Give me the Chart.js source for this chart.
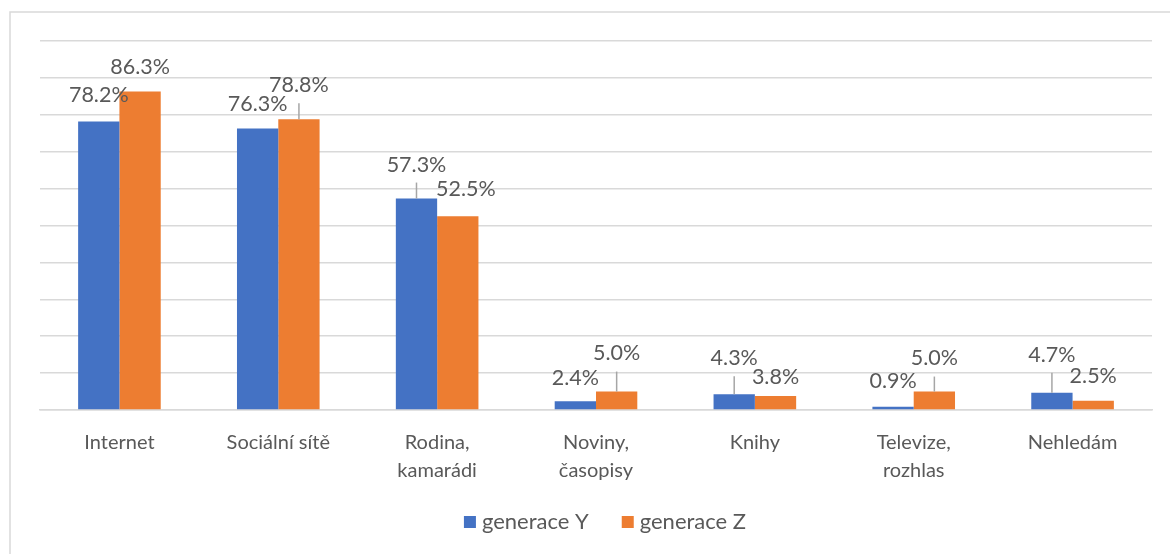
<!DOCTYPE html>
<html>
<head>
<meta charset="utf-8">
<script src="https://cdn.jsdelivr.net/npm/chart.js@4"></script>
<style>
  body { margin: 0; background: #fff; }
  canvas { display: block; }
</style>
</head>
<body>
<canvas id="chart" width="1170" height="554"></canvas>
<script>
const categories = [['Internet'], ['Sociální sítě'], ['Rodina,', 'kamarádi'], ['Noviny,', 'časopisy'], ['Knihy'], ['Televize,', 'rozhlas'], ['Nehledám']]
const seriesNames = ['generace Y', 'generace Z']
const genY = [78.2, 76.3, 57.3, 2.4, 4.3, 0.9, 4.7]
const genZ = [86.3, 78.8, 52.5, 5.0, 3.8, 5.0, 2.5]

// label placement (px above bar top), leader line flags, sideways nudge
const labelLift = [[26, 24, 34, 23, 36, 26, 38], [24, 34, 27, 38, 19, 33, 25]]
const labelLeader = [[false, false, true, false, true, false, true], [false, true, false, true, false, true, false]]
const labelShift = [[0, 0, 0, 0, 0, 0, 0], [0, 0, 8, 0, 0, 0, 0]]

const colors = ['#4472c4', '#ed7d31']
const textColor = '#595959'
const font = 'Lato'

const labelsPlugin = {
  id: 'labels',
  beforeDraw(chart) {
    const ctx = chart.ctx
    ctx.save()
    ctx.strokeStyle = '#d9d9d9'
    ctx.lineWidth = 1.5
    ctx.strokeRect(10, 12, 1200, 600)
    ctx.restore()
  },
  afterDatasetsDraw(chart) {
    const ctx = chart.ctx
    ctx.save()
    ctx.font = `21.5px ${font}`
    ctx.fillStyle = textColor
    ctx.textAlign = 'center'
    ctx.textBaseline = 'middle'
    chart.data.datasets.forEach((ds, di) => {
      const meta = chart.getDatasetMeta(di)
      meta.data.forEach((bar, i) => {
        const cy = bar.y - labelLift[di][i]
        const cx = bar.x + labelShift[di][i]
        ctx.fillText(ds.data[i].toFixed(1) + '%', cx, cy)
        if (labelLeader[di][i]) {
          ctx.strokeStyle = '#a6a6a6'
          ctx.lineWidth = 1.5
          ctx.beginPath()
          ctx.moveTo(bar.x, cy + 18)
          ctx.lineTo(bar.x, bar.y)
          ctx.stroke()
        }
      })
    })

    // legend, a bit right of centre like the original
    ctx.font = `22px ${font}`
    const box = 12, gap = 6, spacing = 33
    const widths = chart.data.datasets.map(ds => box + gap + ctx.measureText(ds.label).width)
    const total = widths.reduce((a, b) => a + b, 0) + spacing * (widths.length - 1)
    let x = (chart.width - total) / 2 + 20
    const y = 522
    ctx.textAlign = 'left'
    chart.data.datasets.forEach((ds, di) => {
      ctx.fillStyle = ds.backgroundColor
      ctx.fillRect(x, y - box / 2, box, box)
      ctx.fillStyle = textColor
      ctx.fillText(ds.label, x + box + gap, y)
      x += widths[di] + spacing
    })
    ctx.restore()
  }
}

new Chart(document.getElementById('chart'), {
  type: 'bar',
  data: {
    labels: categories,
    datasets: [
      { label: seriesNames[0], data: genY, backgroundColor: colors[0] },
      { label: seriesNames[1], data: genZ, backgroundColor: colors[1] }
    ]
  },
  options: {
    responsive: false,
    animation: false,
    layout: { padding: { top: 41, left: 40, right: 18, bottom: 0 } },
    datasets: { bar: { categoryPercentage: 0.52, barPercentage: 1 } },
    plugins: {
      legend: { display: false },
      tooltip: { enabled: false }
    },
    scales: {
      x: {
        afterFit: s => { s.height = 144 },
        grid: { display: false },
        border: { color: '#d9d9d9', width: 1.5 },
        ticks: {
          color: textColor,
          padding: 11,
          maxRotation: 0,
          autoSkip: false,
          font: { family: font, size: 20, lineHeight: 1.4 }
        }
      },
      y: {
        min: 0,
        max: 100,
        afterFit: s => { s.width = 0 },
        border: { display: false },
        grid: { color: '#d9d9d9', lineWidth: 1.5, drawTicks: false },
        ticks: { display: false, stepSize: 10 }
      }
    }
  },
  plugins: [labelsPlugin]
})
</script>
</body>
</html>
